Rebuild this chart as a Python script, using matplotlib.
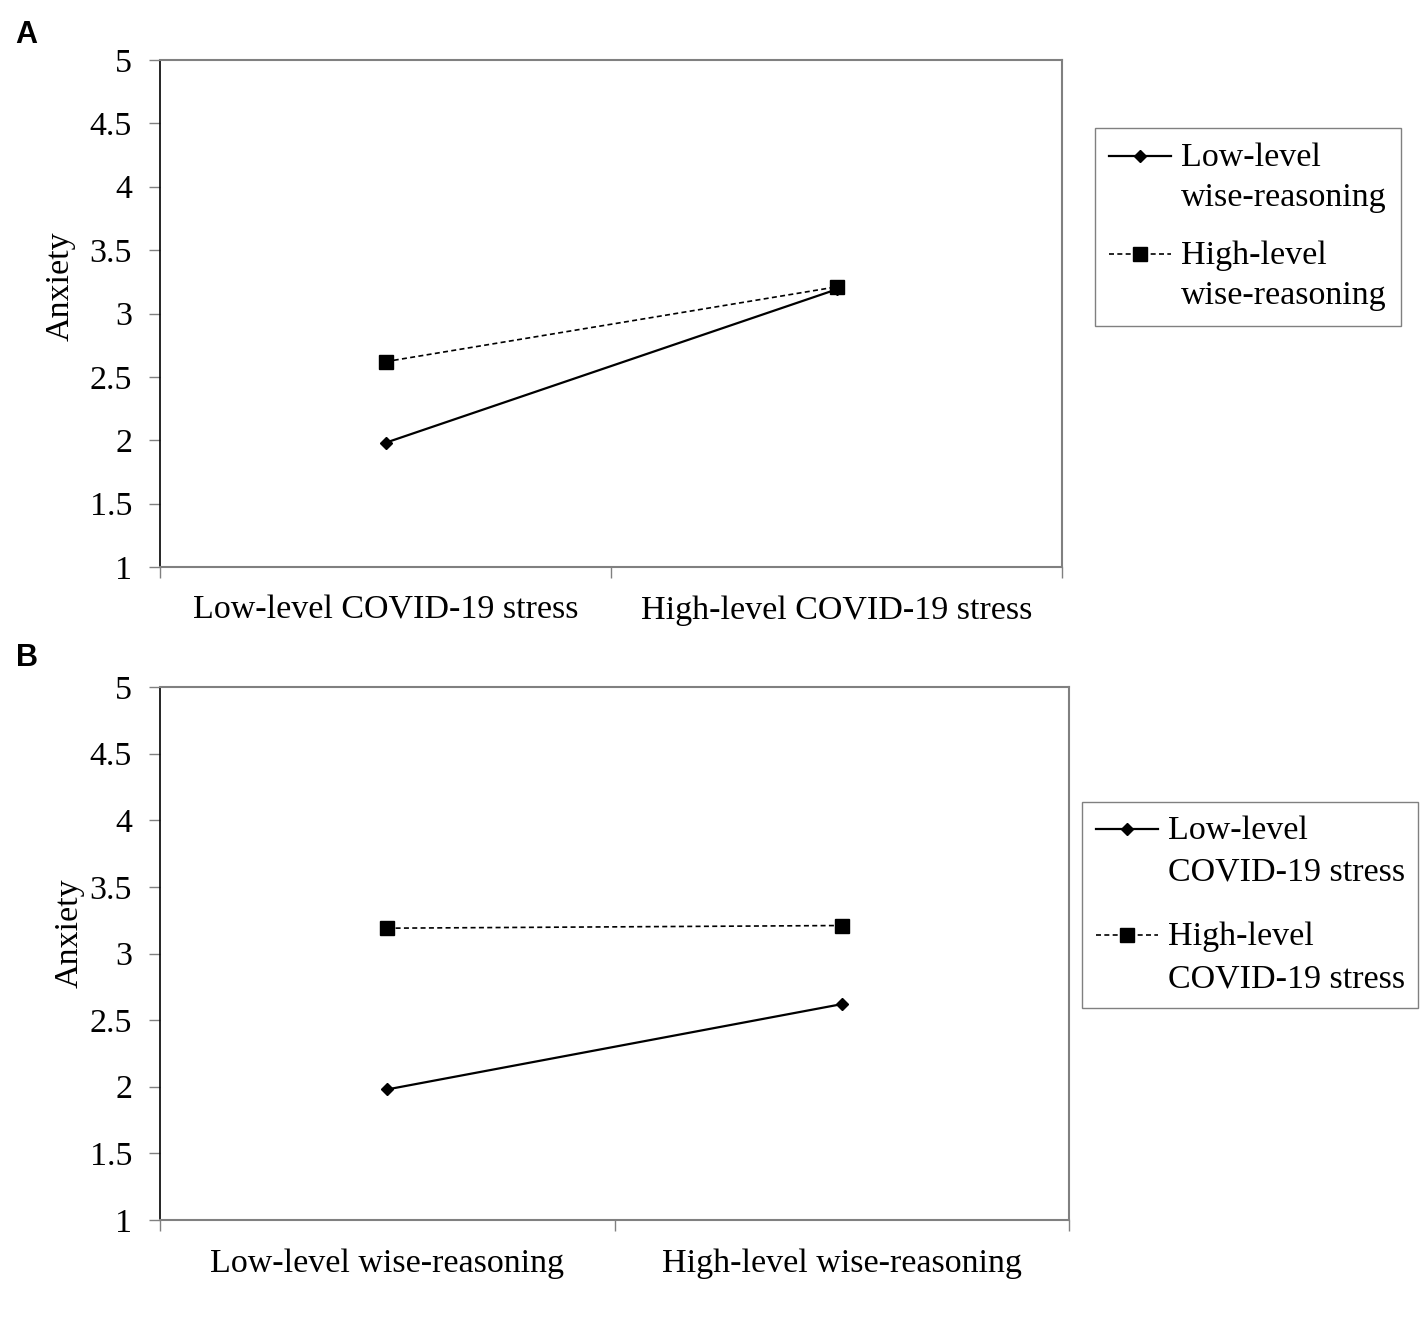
import matplotlib
matplotlib.use("Agg")
import matplotlib.pyplot as plt
from matplotlib.legend_handler import HandlerLine2D

W, H = 1421, 1317
plt.rcParams['font.family'] = ['Liberation Serif', 'DejaVu Serif']

# Panel A data
a_categories = ["Low-level COVID-19 stress", "High-level COVID-19 stress"]
a_low_wise = [1.98, 3.19]
a_high_wise = [2.62, 3.21]
a_labels = ["Low-level\nwise-reasoning", "High-level\nwise-reasoning"]

# Panel B data
b_categories = ["Low-level wise-reasoning", "High-level wise-reasoning"]
b_low_covid = [1.98, 2.62]
b_high_covid = [3.19, 3.21]
b_labels = ["Low-level\nCOVID-19 stress", "High-level\nCOVID-19 stress"]

y_ticks = [1, 1.5, 2, 2.5, 3, 3.5, 4, 4.5, 5]
y_ticklabels = ["1", "1.5", "2", "2.5", "3", "3.5", "4", "4.5", "5"]

FS = 24.5

fig = plt.figure(figsize=(W / 100, H / 100), dpi=100)


class TopLineHandler(HandlerLine2D):
    """Place the handle next to the first line of a two-line label."""
    def __init__(self, off, **kw):
        super().__init__(**kw)
        self.off = off

    def create_artists(self, legend, orig_handle, xdescent, ydescent,
                       width, height, fontsize, trans):
        return super().create_artists(legend, orig_handle, xdescent,
                                      ydescent - 2 * self.off, width, height,
                                      fontsize, trans)


def px_axes(x0, y0, x1, y1):
    return fig.add_axes([x0 / W, 1 - y1 / H, (x1 - x0) / W, (y1 - y0) / H])


def draw_panel(ax, cats, s1, s2, labels, leg_anchor, bpad, lspace, lsp, off):
    xs = [i + 0.5 for i in range(len(cats))]
    l1, = ax.plot(xs, s1, color='black', lw=1.6, marker='D', markersize=6.5,
                  label=labels[0])
    l2, = ax.plot(xs, s2, color='black', lw=1.2, ls=(0, (3, 2)), marker='s',
                  markersize=9.5, label=labels[1])
    ax.set_xlim(0, len(cats))
    ax.set_ylim(1, 5)
    ax.set_yticks(y_ticks)
    ax.set_yticklabels(y_ticklabels, fontsize=FS)
    ax.set_xticks(range(len(cats) + 1))
    ax.set_xticklabels([])
    ax.set_xticks(xs, minor=True)
    ax.set_xticklabels(cats, minor=True, fontsize=FS)
    ax.tick_params(axis='x', which='minor', length=0, pad=20.5)
    ax.tick_params(axis='x', which='major', length=8, color='#808080', width=1)
    ax.tick_params(axis='y', length=8, color='#808080', width=1, pad=12)
    for s in ['top', 'right', 'bottom']:
        ax.spines[s].set_color('#808080')
        ax.spines[s].set_linewidth(1.5)
    ax.spines['left'].set_color('black')
    ax.spines['left'].set_linewidth(1.2)
    ax.set_ylabel("Anxiety", fontsize=FS)
    leg = ax.legend(handles=[l1, l2], loc='upper left',
                    bbox_to_anchor=(leg_anchor[0] / W, 1 - leg_anchor[1] / H),
                    bbox_transform=fig.transFigure, fontsize=FS, frameon=True,
                    fancybox=False, edgecolor='#808080', framealpha=1,
                    handlelength=1.82, handletextpad=0.3, borderpad=bpad,
                    labelspacing=lspace, borderaxespad=0,
                    handler_map={l1: TopLineHandler(off), l2: TopLineHandler(off)})
    for t in leg.get_texts():
        t.set_linespacing(lsp)
    leg.get_frame().set_linewidth(1.0)
    return ax


axA = px_axes(160, 60, 1062, 567)
draw_panel(axA, a_categories, a_low_wise, a_high_wise, a_labels, (1095, 128),
           0.42, 0.8, 1.42, 15.5)
axA.yaxis.set_label_coords(-0.093, 0.554)

axB = px_axes(160, 687, 1069, 1220)
draw_panel(axB, b_categories, b_low_covid, b_high_covid, b_labels, (1082, 802),
           0.4, 1.0, 1.48, 16.2)
axB.yaxis.set_label_coords(-0.083, 0.538)

fig.text(15 / W, 1 - 43 / H, "A", fontsize=22, fontweight='bold',
         family='Liberation Sans')
fig.text(16 / W, 1 - 666 / H, "B", fontsize=22, fontweight='bold',
         family='Liberation Sans')

fig.savefig("out.png", dpi=100, facecolor='white')
